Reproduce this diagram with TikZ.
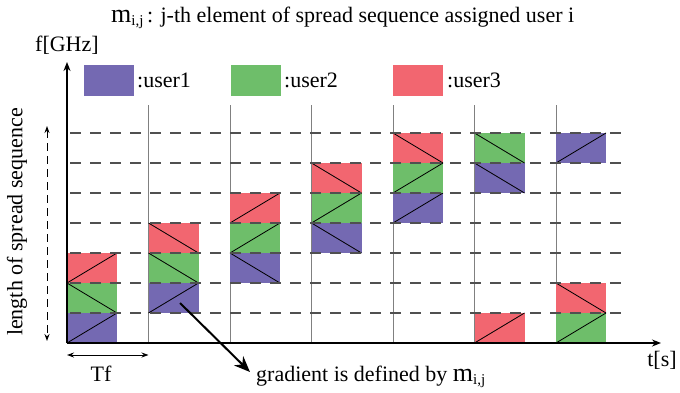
\documentclass[tikz,border=0pt]{standalone}
\usepackage{fontspec}
\setmainfont{Liberation Serif}
\usetikzlibrary{arrows.meta}
\definecolor{ublue}{HTML}{7469B2}
\definecolor{ugreen}{HTML}{6EBE6A}
\definecolor{ured}{HTML}{F26670}
\definecolor{gridgray}{HTML}{808080}
\definecolor{dashgray}{HTML}{505050}
\tikzset{
  lbl/.style={font=\fontsize{22}{24}\selectfont, inner sep=0pt},
  axisline/.style={line width=1.4pt, -{Stealth[length=9pt,width=7pt]}},
  slotline/.style={gridgray, line width=0.8pt},
  levelline/.style={dashgray, line width=1.1pt, dash pattern=on 11pt off 9pt},
  diag/.style={black, line width=0.8pt},
}
\newcommand{\mijsym}{{\fontsize{26}{26}\selectfont m}\raisebox{-3pt}{\fontsize{15}{15}\selectfont i,j}}
% block: slot, level, colour, direction (u = rising, d = falling)
\newcommand{\blk}[4]{%
  \pgfmathsetmacro{\bx}{67+81.5*(#1-1)}%
  \pgfmathsetmacro{\by}{343-30*#2}%
  \fill[#3] (\bx,\by) rectangle ++(50,-30);
  \ifx u#4\relax
    \draw[diag] (\bx,\by) -- ++(50,-30);
  \else
    \draw[diag] (\bx,\by-30) -- ++(50,30);
  \fi
}
\begin{document}
\begin{tikzpicture}[x=1pt,y=-1pt]
\useasboundingbox (0,0) rectangle (680,392);
% title
\node[lbl, anchor=west] (title) at (111,18) {\mijsym\,: j-th element of spread sequence assigned user i};
% axis label
\node[lbl, anchor=west] (flab) at (35,45) {f[GHz]};
% legend
\fill[ublue] (84,65) rectangle (134,96);
\node[lbl, anchor=west] (l1) at (137,80) {:user1};
\fill[ugreen] (231,65) rectangle (281,96);
\node[lbl, anchor=west] (l2) at (284,80) {:user2};
\fill[ured] (393,65) rectangle (443,96);
\node[lbl, anchor=west] (l3) at (447,80) {:user3};
% slot lines
\foreach \s in {1,...,6} {
  \draw[slotline] ({67+81.5*\s},105) -- ({67+81.5*\s},343);
}
% blocks
\blk{1}{0}{ublue}{u}
\blk{1}{1}{ugreen}{d}
\blk{1}{2}{ured}{u}
\blk{2}{1}{ublue}{u}
\blk{2}{2}{ugreen}{d}
\blk{2}{3}{ured}{d}
\blk{3}{2}{ublue}{d}
\blk{3}{3}{ugreen}{u}
\blk{3}{4}{ured}{u}
\blk{4}{3}{ublue}{d}
\blk{4}{4}{ugreen}{u}
\blk{4}{5}{ured}{d}
\blk{5}{4}{ublue}{u}
\blk{5}{5}{ugreen}{u}
\blk{5}{6}{ured}{d}
\blk{6}{0}{ured}{u}
\blk{6}{5}{ublue}{d}
\blk{6}{6}{ugreen}{d}
\blk{7}{0}{ugreen}{u}
\blk{7}{1}{ured}{d}
\blk{7}{6}{ublue}{u}
% dashed level lines
\foreach \k in {1,...,7} {
  \draw[levelline] (70,{343-30*\k}) -- (626,{343-30*\k});
}
% axes
\coordinate (O) at (67,343);
\coordinate (ytop) at (67,62);
\coordinate (xend) at (661,343);
\draw[axisline] (O) -- (ytop);
\draw[axisline] (O) -- (xend);
\node[lbl] (tlab) at (662,360) {t[s]};
% length of spread sequence
\coordinate (la) at (47,126);
\coordinate (lb) at (47,341);
\draw[line width=1pt, dash pattern=on 8pt off 5pt, {Stealth[length=7pt,width=5pt]}-{Stealth[length=7pt,width=5pt]}] (la) -- (lb);
\node[lbl, rotate=90] (len) at (17,222) {length of spread sequence};
% Tf
\coordinate (ta) at (67,355);
\coordinate (tb) at (148.5,355);
\draw[line width=1pt, {Stealth[length=7pt,width=5pt]}-{Stealth[length=7pt,width=5pt]}] (ta) -- (tb);
\node[lbl] (tf) at (101,374) {Tf};
% gradient
\coordinate (ga) at (180,303);
\coordinate (gb) at (250,372);
\draw[line width=2pt, -{Stealth[length=16pt,width=13pt]}] (ga) -- (gb);
\node[lbl, anchor=west] (grad) at (256,377) {gradient is defined by \mijsym};
\end{tikzpicture}
\end{document}
